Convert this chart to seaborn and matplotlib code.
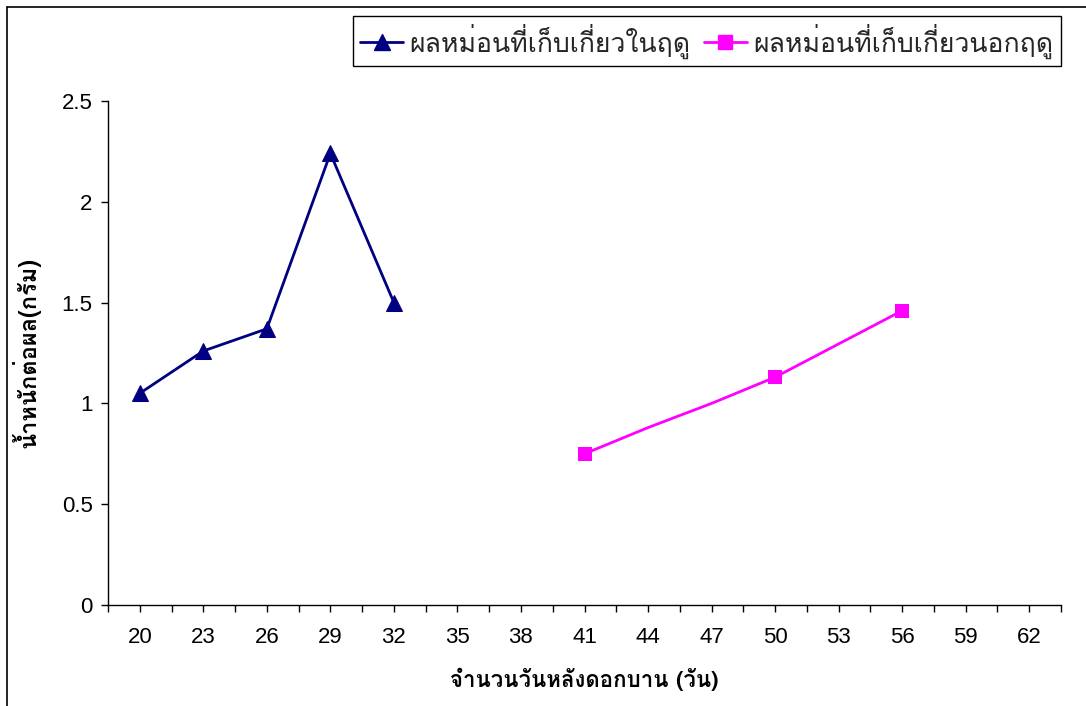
import matplotlib
matplotlib.use("Agg")
import matplotlib.pyplot as plt
from matplotlib import font_manager
from matplotlib.ft2font import FT2Font
from matplotlib.lines import Line2D
import seaborn as sns
import pandas as pd

# Harvest age categories (days after flowering)
days = [20, 23, 26, 29, 32, 35, 38, 41, 44, 47, 50, 53, 56, 59, 62]

# In-season fruits
in_days = [20, 23, 26, 29, 32]
in_weight = [1.05, 1.26, 1.37, 2.24, 1.50]

# Off-season fruits
off_days = [41, 44, 47, 50, 56]
off_weight = [0.75, 0.88, 1.00, 1.13, 1.46]
off_marked = [41, 50, 56]

label_in = "ผลหม่อนที่เก็บเกี่ยวในฤดู"
label_off = "ผลหม่อนที่เก็บเกี่ยวนอกฤดู"
xlabel = "จำนวนวันหลังดอกบาน (วัน)"
ylabel = "น้ำหนักต่อผล(กรัม)"


def thai_families():
    found = []
    for f in font_manager.fontManager.ttflist:
        try:
            cmap = FT2Font(f.fname).get_charmap()
        except Exception:
            continue
        if 0x0E1C in cmap and f.name not in found:
            found.append(f.name)
    return found


sns.set_theme(style="white")
thai = thai_families()
plt.rcParams["font.family"] = thai + ["Liberation Sans", "DejaVu Sans"]

fig = plt.figure(figsize=(10.86, 7.06), dpi=100)
ax = fig.add_axes([108 / 1086, 1 - 605 / 706, (1061 - 108) / 1086, (605 - 101) / 706])

pos = {d: i for i, d in enumerate(days)}
df_in = pd.DataFrame({"x": [pos[d] for d in in_days], "y": in_weight})
df_off = pd.DataFrame({"x": [pos[d] for d in off_days], "y": off_weight})
df_off_m = pd.DataFrame({"x": [pos[d] for d in off_marked],
                         "y": [off_weight[off_days.index(d)] for d in off_marked]})

navy = "#000080"
magenta = "#FF00FF"

sns.lineplot(data=df_in, x="x", y="y", ax=ax, color=navy, lw=2,
             marker="^", markersize=12, markeredgecolor=navy, markerfacecolor=navy)
sns.lineplot(data=df_off, x="x", y="y", ax=ax, color=magenta, lw=2)
sns.scatterplot(data=df_off_m, x="x", y="y", ax=ax, color=magenta, marker="s",
                s=110, edgecolor=magenta, linewidth=0, zorder=3)

ax.set_xlim(-0.5, len(days) - 0.5)
ax.set_ylim(0, 2.5)
ax.set_xticks(range(len(days)))
ax.set_xticklabels([str(d) for d in days])
ax.set_xticks([i - 0.5 for i in range(len(days) + 1)], minor=True)
ax.set_yticks([0, 0.5, 1, 1.5, 2, 2.5])
ax.set_yticklabels(["0", "0.5", "1", "1.5", "2", "2.5"])

for s in ["top", "right"]:
    ax.spines[s].set_visible(False)
for s in ["left", "bottom"]:
    ax.spines[s].set_color("black")
    ax.spines[s].set_linewidth(1.0)

ax.tick_params(axis="x", which="both", direction="out", length=5, width=1,
               color="black", bottom=True, pad=11)
ax.tick_params(axis="y", which="major", direction="out", length=5, width=1,
               color="black", left=True, pad=6)
for t in ax.get_xticklabels() + ax.get_yticklabels():
    t.set_family(["Liberation Sans", "DejaVu Sans"])
    t.set_fontsize(16)
    t.set_color("black")

ax.set_xlabel(xlabel, fontsize=16, fontweight="bold", color="black", labelpad=14)
ax.set_ylabel(ylabel, fontsize=17, fontweight="bold", color="black", labelpad=15)
ax.grid(False)

handles = [
    Line2D([], [], color=navy, lw=2, marker="^", markersize=12,
           markerfacecolor=navy, markeredgecolor=navy),
    Line2D([], [], color=magenta, lw=2, marker="s", markersize=10,
           markerfacecolor=magenta, markeredgecolor=magenta),
]
leg = fig.legend(handles, [label_in, label_off], loc="upper right",
                 bbox_to_anchor=(1061 / 1086, 1 - 16 / 706), ncol=2,
                 fontsize=19.2, frameon=True, fancybox=False, framealpha=1,
                 edgecolor="black", borderpad=0.28, handlelength=1.6,
                 handletextpad=0.25, columnspacing=0.5, borderaxespad=0)
leg.get_frame().set_linewidth(1.0)

# outer chart frame
fig.add_artist(Line2D([7 / 1086, 7 / 1086], [0, 1 - 7 / 706], color="black", lw=1.2,
                      transform=fig.transFigure))
fig.add_artist(Line2D([7 / 1086, 1], [1 - 7 / 706, 1 - 7 / 706], color="black", lw=1.2,
                      transform=fig.transFigure))

fig.savefig("out.png", dpi=100, facecolor="white")
